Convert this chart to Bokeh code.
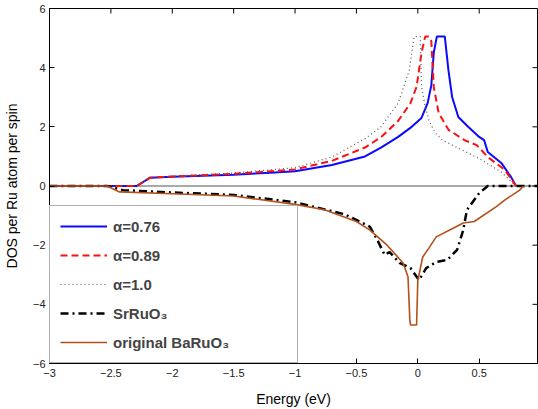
import math
from bokeh.plotting import figure
from bokeh.models import Range1d, Span, Legend, LegendItem, FixedTicker
from bokeh.embed import file_html
from bokeh.resources import INLINE

# ---- data ----
energy_a076 = [-3.0, -2.29, -2.18, -2.0, -1.5, -1.2, -1.0, -0.7, -0.43, -0.3, -0.16, -0.05, 0.03, 0.08,
               0.11, 0.13, 0.155, 0.22, 0.25, 0.28, 0.33, 0.41, 0.50, 0.54, 0.57, 0.68, 0.76, 0.80]
dos_a076 = [0.0, 0.0, 0.28, 0.31, 0.38, 0.45, 0.5, 0.71, 1.0, 1.3, 1.66, 2.0, 2.3, 2.8,
            3.4, 4.5, 5.05, 5.05, 3.9, 3.0, 2.33, 2.0, 1.66, 1.55, 1.15, 0.78, 0.3, 0.0]

energy_a089 = [-3.0, -2.29, -2.18, -2.0, -1.5, -1.0, -0.7, -0.43, -0.3, -0.16, -0.06, -0.01, 0.03, 0.06,
               0.09, 0.11, 0.13, 0.17, 0.25, 0.38, 0.48, 0.57, 0.71, 0.80]
dos_a089 = [0.0, 0.0, 0.28, 0.32, 0.41, 0.56, 0.85, 1.3, 1.65, 2.2, 2.8, 3.35, 4.5, 5.05,
            5.05, 4.9, 3.35, 2.47, 1.9, 1.55, 1.38, 0.98, 0.54, 0.0]

energy_a100 = [-3.0, -2.29, -2.18, -2.0, -1.5, -1.0, -0.7, -0.43, -0.3, -0.16, -0.07, -0.03, 0.02, 0.03,
               0.06, 0.09, 0.14, 0.2, 0.36, 0.52, 0.68, 0.80]
dos_a100 = [0.0, 0.0, 0.28, 0.33, 0.44, 0.62, 0.98, 1.6, 2.0, 2.8, 3.9, 5.05, 5.05, 3.35,
            2.7, 2.23, 1.8, 1.55, 1.22, 0.88, 0.47, 0.0]

energy_sro = [-3.0, -2.53, -2.4, -2.0, -1.5, -1.0, -0.6, -0.45, -0.39, -0.33, -0.27, -0.23, -0.15, -0.06,
              0.01, 0.07, 0.15, 0.24, 0.32, 0.37, 0.40, 0.5, 0.57, 0.975]
dos_sro = [0.0, 0.0, -0.14, -0.22, -0.3, -0.55, -0.95, -1.25, -1.38, -1.82, -2.33, -2.23, -2.6, -2.77,
           -3.18, -2.77, -2.57, -2.5, -2.16, -1.49, -0.81, -0.24, 0.0, 0.0]

energy_bro = [-3.0, -2.53, -2.43, -2.0, -1.5, -1.0, -0.76, -0.5, -0.39, -0.25, -0.12, -0.08, -0.065,
              -0.06, -0.01, 0.0, 0.04, 0.09, 0.15, 0.3, 0.37, 0.46, 0.64, 0.71, 0.83, 0.86]
dos_bro = [0.0, 0.0, -0.2, -0.26, -0.34, -0.62, -0.8, -1.2, -1.49, -2.0, -2.6, -3.07, -4.5,
           -4.7, -4.7, -3.2, -2.4, -2.1, -1.72, -1.4, -1.25, -1.2, -0.7, -0.47, -0.14, 0.0]

labels = ["α=0.76", "α=0.89", "α=1.0", "SrRuO₃", "original BaRuO₃"]
x_ticks = [-3, -2.5, -2, -1.5, -1, -0.5, 0, 0.5, 1]
y_ticks = [-6, -4, -2, 0, 2, 4, 6]
x_min, x_max = -3.0, 0.975
y_min, y_max = -6.0, 6.0

FONT = "Liberation Sans"

p = figure(width=538, height=409, output_backend="svg", toolbar_location=None,
           x_range=Range1d(x_min, x_max), y_range=Range1d(y_min, y_max),
           min_border_left=48, min_border_top=8, min_border_right=1, min_border_bottom=0)
p.xgrid.visible = False
p.ygrid.visible = False
p.outline_line_color = "black"
p.outline_line_width = 1
p.background_fill_color = "white"

for ax in (p.xaxis[0], p.yaxis[0]):
    ax.major_tick_in = 5
    ax.major_tick_out = 0
    ax.minor_tick_line_color = None
    ax.axis_line_color = "black"
    ax.major_tick_line_color = "black"
    ax.major_label_text_font = FONT
    ax.major_label_text_font_size = "11px"
    ax.major_label_text_color = "#222222"
    ax.axis_label_text_font = FONT
    ax.axis_label_text_font_size = "14px"
    ax.axis_label_text_font_style = "normal"
    ax.axis_label_text_color = "black"
p.xaxis.ticker = FixedTicker(ticks=x_ticks)
p.yaxis.ticker = FixedTicker(ticks=y_ticks)
p.xaxis.axis_label = "Energy (eV)"
p.yaxis.axis_label = "DOS per Ru atom per spin"
p.xaxis.major_label_standoff = 5
p.yaxis.major_label_standoff = 4
p.xaxis.axis_label_standoff = 11
p.yaxis.axis_label_standoff = 10

# inward tick marks on the top and right frame edges (MATLAB box style)
top_ticks = [t for t in x_ticks if x_min <= t <= x_max]
p.ray(x=top_ticks, y=[y_max] * len(top_ticks), length=5, length_units="screen",
      angle=-math.pi / 2, line_color="black", line_width=1)
p.ray(x=[x_max] * len(y_ticks), y=y_ticks, length=5, length_units="screen",
      angle=math.pi, line_color="black", line_width=1)

p.add_layout(Span(location=0, dimension="width", line_color="#555555", line_width=1.2, level="underlay"))

r1 = p.line(energy_a076, dos_a076, line_color="#0a0aff", line_width=2)
r2 = p.line(energy_a089, dos_a089, line_color="#ff1010", line_width=2, line_dash="7 4")
r3 = p.line(energy_a100, dos_a100, line_color="#555555", line_width=1.2, line_dash="1 3")
r4 = p.line(energy_sro, dos_sro, line_color="black", line_width=2.5, line_dash="8 4 2 4")
r5 = p.line(energy_bro, dos_bro, line_color="#b4501a", line_width=1.6)

legend = Legend(items=[LegendItem(label=labels[i], renderers=[r]) for i, r in enumerate([r1, r2, r3, r4, r5])],
                location=(0, 0), margin=0, padding=10, spacing=9,
                glyph_width=47, glyph_height=20, label_height=20, label_width=174, label_standoff=6,
                label_text_font=FONT, label_text_font_style="bold", label_text_font_size="15px",
                border_line_color="#666666", border_line_width=1.5,
                background_fill_color="white", background_fill_alpha=1.0)
p.add_layout(legend)

open("out.html", "w").write(file_html(p, INLINE))
